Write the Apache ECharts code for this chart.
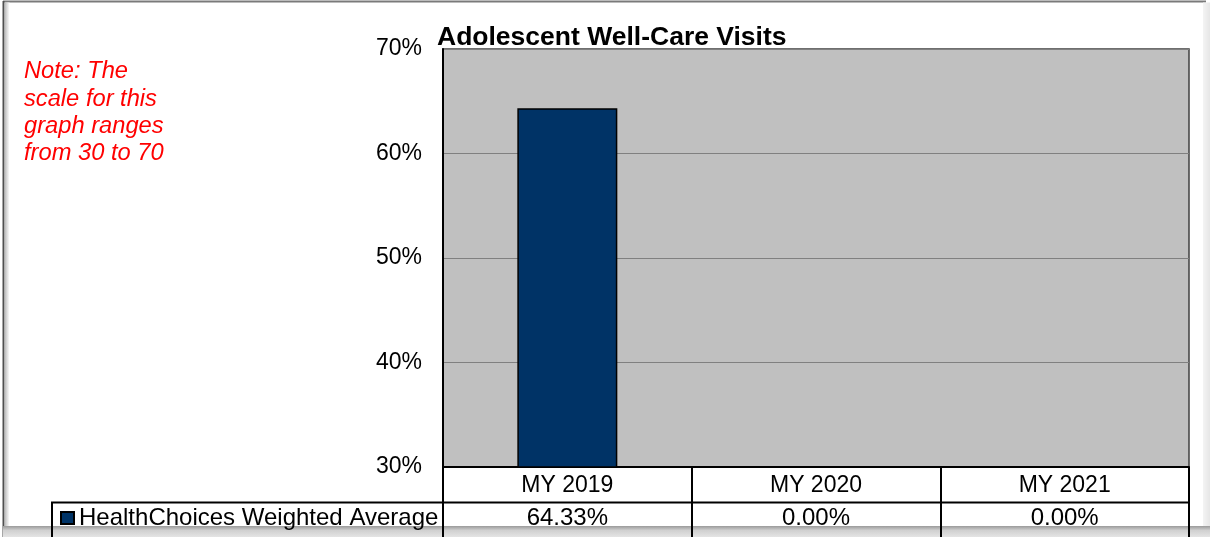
<!DOCTYPE html>
<html><head><meta charset="utf-8">
<script src="https://cdn.jsdelivr.net/npm/echarts@6/dist/echarts.min.js"></script>
<style>html,body{margin:0;padding:0;background:#fff}#c{width:1210px;height:537px}</style>
</head><body><div id="c"></div>
<script>
const categories = ['MY 2019', 'MY 2020', 'MY 2021'];
const values = [64.33, 0.00, 0.00];
const seriesName = 'HealthChoices Weighted Average';
const yMin = 30, yMax = 70, yInterval = 10;
const titleText = 'Adolescent Well-Care Visits';
const noteLines = ['Note: The', 'scale for this', 'graph ranges', 'from 30 to 70'];

const F = '"Liberation Sans", Arial, sans-serif';
const G = { left: 443, top: 49, width: 746, height: 418 };
const chart = echarts.init(document.getElementById('c'));
const option = {
  animation: false,
  backgroundColor: '#fff',
  title: { text: titleText, left: 437, top: 24, padding: 0,
    textStyle: { fontFamily: F, fontSize: 26.5, fontWeight: 'bold', color: '#000' } },
  grid: { left: G.left, top: G.top, width: G.width, height: G.height, show: true,
    backgroundColor: '#c0c0c0', borderColor: '#404040', borderWidth: 1.5 },
  legend: { left: 60, top: 506, itemWidth: 13, itemHeight: 12, padding: 0, selectedMode: false,
    textStyle: { fontFamily: F, fontSize: 24, color: '#000' },
    data: [{ name: seriesName, icon: 'rect' }] },
  xAxis: [
    { type: 'category', data: categories, position: 'bottom',
      axisLine: { show: true, lineStyle: { color: '#000', width: 2 } },
      axisTick: { show: true, length: 70, lineStyle: { color: '#000', width: 2 } },
      axisLabel: { margin: 7, fontFamily: F, fontSize: 23, color: '#000' },
      splitLine: { show: false } },
    { type: 'category', data: values.map(v => v.toFixed(2) + '%'), position: 'bottom', offset: 35,
      axisLine: { show: false }, axisTick: { show: false },
      axisLabel: { margin: 4, fontFamily: F, fontSize: 24, color: '#000' },
      splitLine: { show: false } }
  ],
  yAxis: { type: 'value', min: yMin, max: yMax, interval: yInterval,
    axisLine: { show: true, lineStyle: { color: '#000', width: 2 } },
    axisTick: { show: false },
    axisLabel: { formatter: '{value}%', margin: 21, fontFamily: F, fontSize: 23, color: '#000' },
    splitLine: { show: true, lineStyle: { color: '#808080', width: 1 } } },
  series: [{ type: 'bar', name: seriesName, data: values, barWidth: 100, xAxisIndex: 0,
    itemStyle: { color: '#003366', borderColor: '#000', borderWidth: 1.5 } }],
  graphic: [
    { type: 'text', left: 24, top: 58, z: 5,
      style: { text: noteLines.join('\n'), fill: '#ff0000', font: 'italic 23.7px ' + F, lineHeight: 27.4 } },
    { type: 'polyline', z: 5, shape: { points: [[52, 537], [52, 502.5], [G.left + G.width, 502.5]] },
      style: { stroke: '#000', lineWidth: 2, fill: null } },
    // frame
    { type: 'line', z: -10, shape: { x1: 3, y1: 1.5, x2: 1206, y2: 1.5 }, style: { stroke: '#7a7a7a', lineWidth: 2 } },
    { type: 'line', z: -10, shape: { x1: 3.5, y1: 1, x2: 3.5, y2: 537 }, style: { stroke: '#505050', lineWidth: 2 } },
    { type: 'rect', z: -10, shape: { x: 4.5, y: 2.5, width: 5, height: 524 },
      style: { fill: new echarts.graphic.LinearGradient(0, 0, 1, 0, [{ offset: 0, color: '#b8b8b8' }, { offset: 1, color: '#ffffff' }]) } },
    { type: 'rect', z: -10, shape: { x: 1203, y: 2.5, width: 7, height: 535 },
      style: { fill: new echarts.graphic.LinearGradient(0, 0, 1, 0, [{ offset: 0, color: '#f4f4f4' }, { offset: 1, color: '#e6e6e6' }]) } },
    { type: 'rect', z: -10, shape: { x: 3, y: 526, width: 1207, height: 11 },
      style: { fill: new echarts.graphic.LinearGradient(0, 0, 0, 1, [{ offset: 0, color: '#9a9a9a' }, { offset: 0.4, color: '#d0d0d0' }, { offset: 1, color: '#e4e4e4' }]) } }
  ]
};
chart.setOption(option);
</script></body></html>
